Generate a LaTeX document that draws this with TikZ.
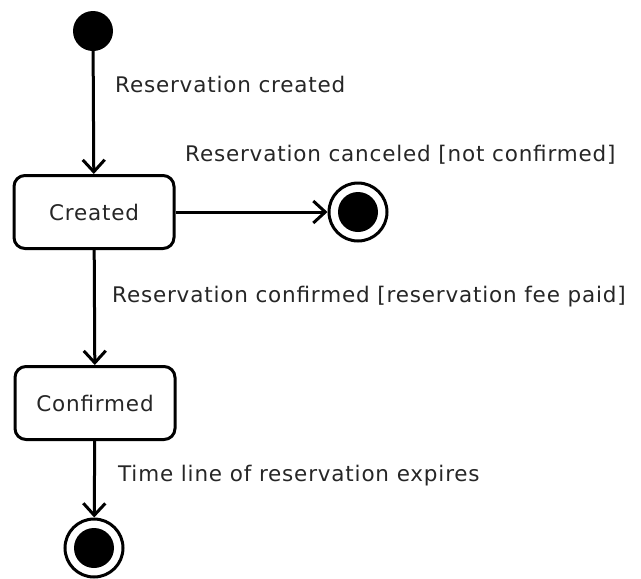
\documentclass[tikz,border=0pt]{standalone}
\usepackage{fontspec}
\setmainfont{DejaVu Sans}
\newfontfamily\diagfont[LetterSpace=3.8]{DejaVu Sans}
\usetikzlibrary{arrows.meta}
\begin{document}
\begin{tikzpicture}[x=1pt,y=-1pt,
  lbl/.style={font=\diagfont\fontsize{21.5}{25}\selectfont, text=black!85, inner sep=0pt, anchor=west},
  state/.style={draw, line width=3pt, rounded corners=11pt, minimum width=160pt,
    minimum height=73pt, inner sep=0pt, font=\diagfont\fontsize{21.5}{25}\selectfont, text=black!85},
  initstate/.style={circle, fill=black, minimum size=40pt, inner sep=0pt},
  finalring/.style={circle, draw, line width=3pt, minimum size=58pt, inner sep=0pt},
  finaldot/.style={circle, fill=black, minimum size=40pt, inner sep=0pt},
  trans/.style={line width=3pt, -{Straight Barb[length=12pt,width=22pt,line width=3pt]}}
]
\useasboundingbox (0,0) rectangle (641,579);

% states
\node[initstate] (init) at (93,31) {};
\node[state] (created) at (94,212) {Created};
\node[state] (confirmed) at (95,403) {Confirmed};
\node[finalring] (endA) at (358,212) {};
\node[finaldot] (endAdot) at (358,212) {};
\node[finalring] (endB) at (94,548) {};
\node[finaldot] (endBdot) at (94,548) {};

% transitions
\draw[trans] (init) -- (created);
\draw[trans] (created) -- (endA);
\draw[trans] (created) -- (confirmed);
\draw[trans] (confirmed) -- (endB);

% transition labels
\node[lbl] (l1) at (115,84) {Reservation created};
\node[lbl] (l2) at (185,155) {Reservation canceled [not confirmed]};
\node[lbl] (l3) at (112,297) {Reservation confirmed [reservation fee paid]};
\node[lbl] (l4) at (118,476) {Time line of reservation expires};
\end{tikzpicture}
\end{document}
